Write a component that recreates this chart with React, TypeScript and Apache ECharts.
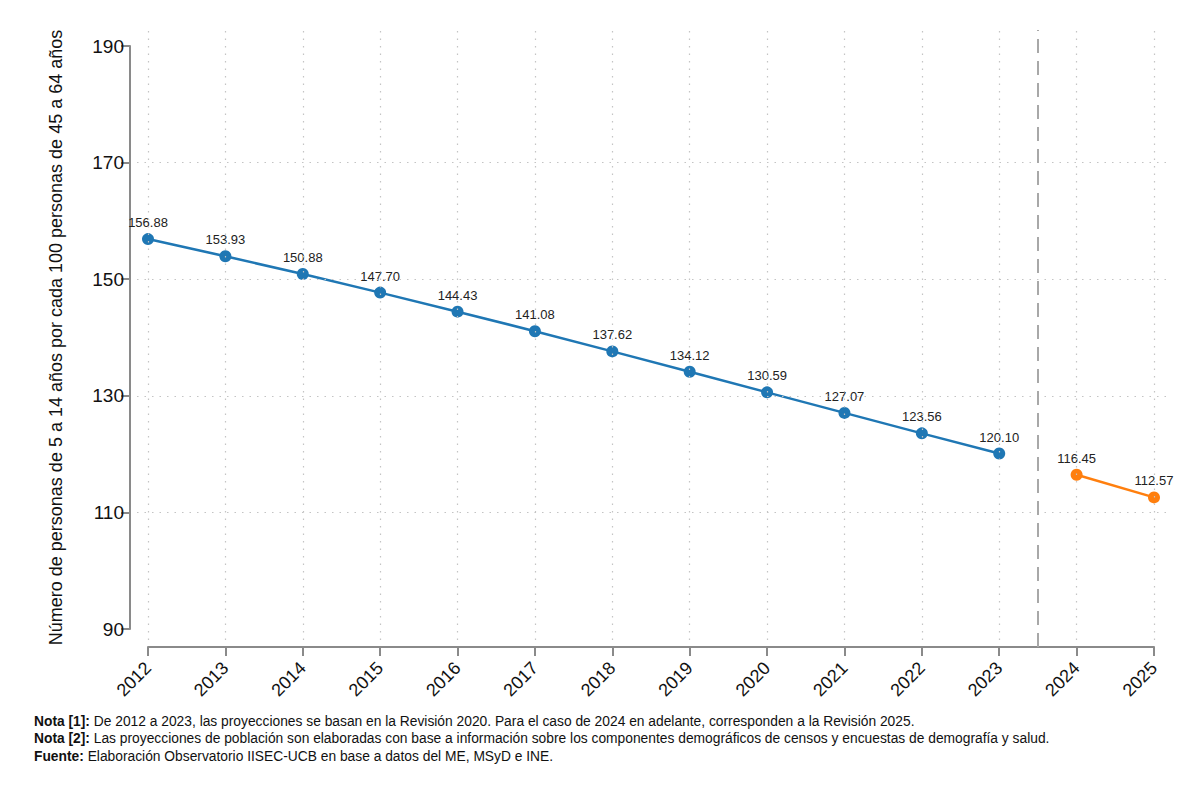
import React, { useEffect, useRef } from "react";
import * as echarts from "echarts";

// Años y valores de la relación de dependencia (5-14 / 45-64)
const years = [2012, 2013, 2014, 2015, 2016, 2017, 2018, 2019, 2020, 2021, 2022, 2023, 2024, 2025];
const rev2020Years = [2012, 2013, 2014, 2015, 2016, 2017, 2018, 2019, 2020, 2021, 2022, 2023];
const rev2020Values = [156.88, 153.93, 150.88, 147.7, 144.43, 141.08, 137.62, 134.12, 130.59, 127.07, 123.56, 120.1];
const rev2025Years = [2024, 2025];
const rev2025Values = [116.45, 112.57];
const gridYTicks = [110, 130, 150, 170];
const splitYear = 2023.5;

const yTitle = "Número de personas de 5 a 14 años por cada 100 personas de 45 a 64 años";
const notes = [
  { head: "Nota [1]:", body: " De 2012 a 2023, las proyecciones se basan en la Revisión 2020. Para el caso de 2024 en adelante, corresponden a la Revisión 2025." },
  { head: "Nota [2]:", body: " Las proyecciones de población son elaboradas con base a información sobre los componentes demográficos de censos y encuestas de demografía y salud." },
  { head: "Fuente:", body: " Elaboración Observatorio IISEC-UCB en base a datos del ME, MSyD e INE." },
];

const FONT = "'Liberation Sans Narrow', 'Arial Narrow', 'Liberation Sans', Arial, sans-serif";
const BLUE = "#1f77b4";
const ORANGE = "#ff7f0e";
const AXIS = "#8a8a8a";
const GRID = "#c4c4c4";

export default function App() {
  const ref = useRef<HTMLDivElement>(null);

  useEffect(() => {
    if (!ref.current) return;
    const chart = echarts.init(ref.current, null, { renderer: "svg" });

    const dotted = { color: GRID, width: 1.2, type: [1.5, 6] as any };
    const hidden = { show: false };

    const seriesLabel = {
      show: true,
      position: "top",
      distance: 4,
      color: "#222",
      fontSize: 13,
      fontFamily: FONT,
      formatter: (p: any) => p.value[1].toFixed(2),
    };

    chart.setOption({
      animation: false,
      backgroundColor: "#ffffff",
      grid: [
        // horizontal grid lines
        { left: 137, right: 32, top: 46, bottom: 172 },
        // vertical grid lines
        { left: 148, right: 46, top: 30, bottom: 161 },
        // dashed separator
        { left: 148, right: 46, top: 30, bottom: 154 },
        // main plot
        { left: 148, right: 46, top: 46, bottom: 172 },
      ],
      xAxis: [
        { gridIndex: 0, type: "value", min: 0, max: 1, show: false },
        { gridIndex: 1, type: "value", min: 2012, max: 2025, show: false },
        { gridIndex: 2, type: "value", min: 2012, max: 2025, show: false },
        {
          gridIndex: 3,
          type: "value",
          min: 2012,
          max: 2025,
          interval: 1,
          offset: 18,
          axisLine: { show: true, lineStyle: { color: AXIS, width: 2 } },
          axisTick: { show: true, length: 9, lineStyle: { color: AXIS, width: 2 } },
          axisLabel: {
            rotate: 45,
            margin: 18,
            color: "#111",
            fontSize: 18,
            fontFamily: FONT,
            formatter: (v: number) => String(v),
          },
          splitLine: hidden,
        },
      ],
      yAxis: [
        { gridIndex: 0, type: "value", min: 90, max: 190, show: false },
        { gridIndex: 1, type: "value", min: 0, max: 1, show: false },
        { gridIndex: 2, type: "value", min: 0, max: 1, show: false },
        {
          gridIndex: 3,
          type: "value",
          min: 90,
          max: 190,
          interval: 20,
          offset: 18,
          axisLine: { show: true, lineStyle: { color: AXIS, width: 2 } },
          axisTick: { show: true, length: 9, lineStyle: { color: AXIS, width: 2 } },
          axisLabel: { margin: 6, color: "#111", fontSize: 19, fontFamily: FONT },
          splitLine: hidden,
          name: yTitle,
          nameLocation: "middle",
          nameGap: 65,
          nameTextStyle: { color: "#111", fontSize: 18, fontFamily: FONT },
        },
      ],
      series: [
        {
          type: "line",
          xAxisIndex: 0,
          yAxisIndex: 0,
          data: [],
          silent: true,
          markLine: {
            silent: true,
            symbol: "none",
            label: hidden,
            lineStyle: dotted,
            data: gridYTicks.map((v) => ({ yAxis: v })),
          },
        },
        {
          type: "line",
          xAxisIndex: 1,
          yAxisIndex: 1,
          data: [],
          silent: true,
          markLine: {
            silent: true,
            symbol: "none",
            label: hidden,
            lineStyle: dotted,
            data: years.map((y) => ({ xAxis: y })),
          },
        },
        {
          type: "line",
          xAxisIndex: 2,
          yAxisIndex: 2,
          data: [],
          silent: true,
          markLine: {
            silent: true,
            symbol: "none",
            label: hidden,
            lineStyle: { color: "#a8a8a8", width: 2, type: [14, 8] as any },
            data: [{ xAxis: splitYear }],
          },
        },
        {
          name: "Revisión 2020",
          type: "line",
          xAxisIndex: 3,
          yAxisIndex: 3,
          data: rev2020Years.map((y, i) => [y, rev2020Values[i]]),
          symbol: "circle",
          symbolSize: 12,
          lineStyle: { color: BLUE, width: 2.5 },
          itemStyle: { color: BLUE },
          label: seriesLabel,
        },
        {
          name: "Revisión 2025",
          type: "line",
          xAxisIndex: 3,
          yAxisIndex: 3,
          data: rev2025Years.map((y, i) => [y, rev2025Values[i]]),
          symbol: "circle",
          symbolSize: 12,
          lineStyle: { color: ORANGE, width: 2.5 },
          itemStyle: { color: ORANGE },
          label: seriesLabel,
        },
      ],
      graphic: notes.map((n, i) => ({
        type: "text",
        left: 34,
        top: 714 + i * 17.5,
        style: {
          text: `{b|${n.head}}{r|${n.body}}`,
          rich: {
            b: { fontFamily: FONT, fontSize: 13.8, fontWeight: "bold", fill: "#111" },
            r: { fontFamily: FONT, fontSize: 13.8, fill: "#111" },
          },
        },
      })),
    });

    return () => chart.dispose();
  }, []);

  return (
    <div
      ref={ref}
      style={{ position: "absolute", left: 0, top: 0, width: 1200, height: 801 }}
    />
  );
}
